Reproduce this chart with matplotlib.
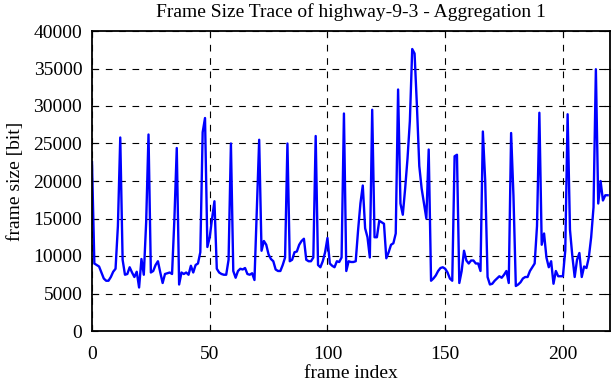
import matplotlib
matplotlib.use("Agg")
import matplotlib.pyplot as plt

# frame sizes in bit (frames 0..219)
frame_size = [
    22500, 9000, 8800, 8600, 7800, 7000, 6700, 6700, 7200, 7900,
    8300, 14000, 25800, 9500, 7500, 7600, 8500, 7800, 7200, 7900,
    5800, 9600, 7500, 14500, 26200, 7800, 8000, 8800, 9300, 7800,
    6400, 7600, 7700, 7800, 7600, 15000, 24400, 6200, 7800, 7600,
    7800, 7500, 8700, 7800, 8800, 9000, 10500, 26500, 28400, 11200,
    12500, 15000, 17300, 8300, 7800, 7600, 7500, 7500, 9500, 25000,
    8000, 7100, 8000, 8300, 8200, 8400, 7600, 7500, 7700, 6800,
    16000, 25500, 10700, 12000, 11500, 10200, 9600, 9300, 8200, 8000,
    8000, 8800, 9800, 25000, 9300, 9500, 10500, 10600, 11500, 12000,
    12300, 9500, 9300, 9300, 9800, 26000, 8800, 8500, 9300, 10500,
    12400, 9000, 8700, 8500, 9300, 9200, 9800, 29000, 8000, 9300,
    9200, 9200, 9300, 13400, 17000, 19400, 13700, 12500, 9800, 29500,
    12500, 12500, 14700, 14500, 14300, 9700, 10500, 11500, 11700, 13000,
    32200, 17000, 15500, 19000, 23000, 28000, 37600, 37000, 30000, 22000,
    19000, 17000, 15000, 24200, 6700, 7000, 7400, 8000, 8400, 8500,
    8300, 7800, 7000, 6700, 23300, 23500, 6400, 8000, 10700, 9400,
    9000, 9400, 9400, 9000, 9000, 8000, 26600, 20000, 7200, 6200,
    6300, 6700, 7000, 7300, 7100, 7500, 8000, 6400, 26400, 18000,
    6000, 6200, 6500, 7000, 7200, 7200, 8000, 8500, 9000, 14000,
    29100, 11500, 13000, 9800, 8500, 9300, 6300, 8000, 7300, 7300,
    7300, 10700, 28900, 13500, 10000, 7200, 9500, 10400, 7200, 8600,
    8400, 9800, 12500, 16500, 34900, 17000, 20000, 17400, 18100, 18100,
]
frame_index = list(range(len(frame_size)))

x_ticks = [0, 50, 100, 150, 200]
y_ticks = [0, 5000, 10000, 15000, 20000, 25000, 30000, 35000, 40000]

plt.rcParams['font.family'] = ['Liberation Serif', 'DejaVu Serif']
plt.rcParams['font.size'] = 14

fig = plt.figure(figsize=(6.12, 3.82), dpi=100)
ax = fig.add_axes([92 / 612, 1 - 331 / 382, 518 / 612, 300 / 382])

ax.plot(frame_index, frame_size, color='#0000ff', linewidth=1.7)

ax.set_xlim(0, 220)
ax.set_ylim(0, 40000)
ax.set_xticks(x_ticks)
ax.set_yticks(y_ticks)
ax.grid(True, color='black', linestyle=(0, (6, 6)), linewidth=0.8)
ax.tick_params(direction='in', length=4, width=0.8, top=True, right=True,
               labelsize=14)
ax.tick_params(axis='x', pad=11)
ax.tick_params(axis='y', pad=7)
for sp in ax.spines.values():
    sp.set_linewidth(1.3)

ax.set_title('Frame Size Trace of highway-9-3 - Aggregation 1', fontsize=14, pad=10)
ax.set_xlabel('frame index', fontsize=14, labelpad=1)
ax.set_ylabel('frame size [bit]', fontsize=14, labelpad=7)

fig.savefig('out.png', dpi=100)
